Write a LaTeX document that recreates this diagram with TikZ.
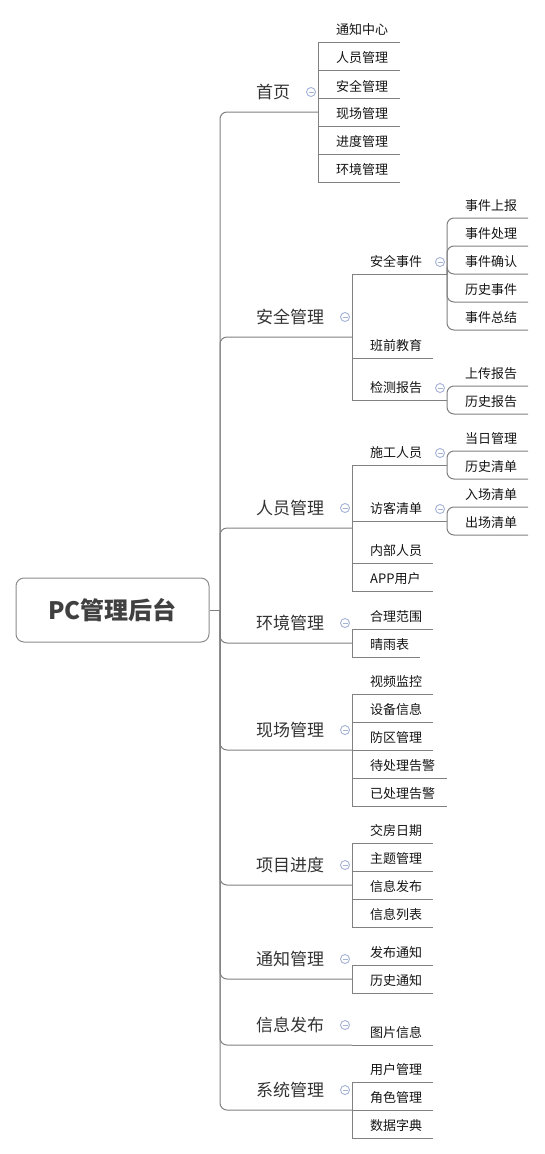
\documentclass[tikz,border=0pt]{standalone}
\usepackage{fontspec}
\setmainfont{Noto Sans CJK SC}
\definecolor{lc}{RGB}{128,128,128}
\definecolor{bc}{RGB}{140,140,140}
\definecolor{t1}{RGB}{51,51,51}
\definecolor{t2}{RGB}{20,20,20}
\definecolor{rt}{RGB}{64,64,64}
\definecolor{ic}{RGB}{165,178,215}
\begin{document}
\begin{tikzpicture}[x=1pt,y=-1pt,
  conn/.style={draw=lc, line width=1pt},
  rconn/.style={conn, rounded corners=7pt},
  l1/.style={anchor=west, inner sep=0pt, font=\fontsize{17}{20}\selectfont, text=t1},
  l2/.style={anchor=west, inner sep=0pt, font=\fontsize{13}{16}\selectfont, text=t2},
  rootbox/.style={draw=bc, line width=1pt, rounded corners=8pt, fill=white,
     minimum width=193pt, minimum height=64pt, inner sep=0pt,
     font=\fontsize{24}{28}\selectfont\bfseries, text=rt},
  foldicon/.pic={\draw[ic, line width=0.9pt, fill=white] (0,0) circle (4.5);
                 \draw[ic, line width=0.9pt] (-2.5,0) -- (2.5,0);}
]
\useasboundingbox (0,0) rectangle (545,1154);

% root
\node[rootbox] (root) at (112.5,610) {PC管理后台};
\coordinate (trunk) at (220,610);
\draw[conn] (root.east) -- (trunk);

% ---------- 首页
\coordinate (sy-end) at (318,112);
\draw[rconn] (trunk) |- (sy-end);
\node[l1] (sy) at (256,92) {首页};
\foreach \t/\y [count=\i] in {通知中心/42,人员管理/70,安全管理/98,现场管理/126,进度管理/154,环境管理/182}{
  \coordinate (sy\i-r) at (400,\y);
  \draw[conn] (sy-end) |- (sy\i-r);
  \node[l2] (sy\i) at (336,\y-12) {\t};
}
\pic at (311,92) {foldicon};

% ---------- 安全管理
\coordinate (aq-end) at (352,337);
\draw[rconn] (trunk) |- (aq-end);
\node[l1] (aq) at (256,317) {安全管理};
\foreach \t/\y/\r [count=\i] in {安全事件/274/447,班前教育/358/433,检测报告/400/447}{
  \coordinate (aq\i-r) at (\r,\y);
  \draw[conn] (aq-end) |- (aq\i-r);
  \node[l2] (aq\i) at (370,\y-12) {\t};
}
\foreach \t/\y [count=\i] in {事件上报/218,事件处理/246,事件确认/274,历史事件/302,事件总结/330}{
  \coordinate (aqa\i-r) at (528,\y);
  \draw[rconn] (aq1-r) |- (aqa\i-r);
  \node[l2] (aqa\i) at (465,\y-12) {\t};
}
\foreach \t/\y [count=\i] in {上传报告/386,历史报告/414}{
  \coordinate (aqc\i-r) at (528,\y);
  \draw[rconn] (aq3-r) |- (aqc\i-r);
  \node[l2] (aqc\i) at (465,\y-12) {\t};
}
\pic at (345,317) {foldicon};
\pic at (440,262) {foldicon};
\pic at (440,388) {foldicon};

% ---------- 人员管理
\coordinate (ry-end) at (352,528);
\draw[rconn] (trunk) |- (ry-end);
\node[l1] (ry) at (256,508) {人员管理};
\foreach \t/\y/\r [count=\i] in {施工人员/465/447,访客清单/521/447,内部人员/563/433,APP用户/591/433}{
  \coordinate (ry\i-r) at (\r,\y);
  \draw[conn] (ry-end) |- (ry\i-r);
  \node[l2] (ry\i) at (370,\y-12) {\t};
}
\foreach \t/\y [count=\i] in {当日管理/451,历史清单/479}{
  \coordinate (rya\i-r) at (528,\y);
  \draw[rconn] (ry1-r) |- (rya\i-r);
  \node[l2] (rya\i) at (465,\y-12) {\t};
}
\foreach \t/\y [count=\i] in {入场清单/507,出场清单/535}{
  \coordinate (ryb\i-r) at (528,\y);
  \draw[rconn] (ry2-r) |- (ryb\i-r);
  \node[l2] (ryb\i) at (465,\y-12) {\t};
}
\pic at (345,508) {foldicon};
\pic at (440,453) {foldicon};
\pic at (440,509) {foldicon};

% ---------- 环境管理
\coordinate (hj-end) at (352,643);
\draw[rconn] (trunk) |- (hj-end);
\node[l1] (hj) at (256,623) {环境管理};
\foreach \t/\y/\r [count=\i] in {合理范围/629/433,晴雨表/657/420}{
  \coordinate (hj\i-r) at (\r,\y);
  \draw[conn] (hj-end) |- (hj\i-r);
  \node[l2] (hj\i) at (370,\y-12) {\t};
}
\pic at (345,623) {foldicon};

% ---------- 现场管理
\coordinate (xc-end) at (352,750);
\draw[rconn] (trunk) |- (xc-end);
\node[l1] (xc) at (256,730) {现场管理};
\foreach \t/\y/\r [count=\i] in {视频监控/694/433,设备信息/722/433,防区管理/750/433,待处理告警/778/447,已处理告警/806/447}{
  \coordinate (xc\i-r) at (\r,\y);
  \draw[conn] (xc-end) |- (xc\i-r);
  \node[l2] (xc\i) at (370,\y-12) {\t};
}
\pic at (345,730) {foldicon};

% ---------- 项目进度
\coordinate (xm-end) at (352,885);
\draw[rconn] (trunk) |- (xm-end);
\node[l1] (xm) at (256,865) {项目进度};
\foreach \t/\y/\r [count=\i] in {交房日期/843/433,主题管理/871/433,信息发布/899/433,信息列表/927/433}{
  \coordinate (xm\i-r) at (\r,\y);
  \draw[conn] (xm-end) |- (xm\i-r);
  \node[l2] (xm\i) at (370,\y-12) {\t};
}
\pic at (345,865) {foldicon};

% ---------- 通知管理
\coordinate (tz-end) at (352,979);
\draw[rconn] (trunk) |- (tz-end);
\node[l1] (tz) at (256,959) {通知管理};
\foreach \t/\y/\r [count=\i] in {发布通知/965/433,历史通知/993/433}{
  \coordinate (tz\i-r) at (\r,\y);
  \draw[conn] (tz-end) |- (tz\i-r);
  \node[l2] (tz\i) at (370,\y-12) {\t};
}
\pic at (345,959) {foldicon};

% ---------- 信息发布
\coordinate (xx-end) at (352,1045);
\draw[rconn] (trunk) |- (xx-end);
\node[l1] (xx) at (256,1025) {信息发布};
\coordinate (xx1-r) at (433,1045);
\draw[conn] (xx-end) -- (xx1-r);
\node[l2] (xx1) at (370,1033) {图片信息};
\pic at (345,1025) {foldicon};

% ---------- 系统管理
\coordinate (xt-end) at (352,1110);
\draw[rconn] (trunk) |- (xt-end);
\node[l1] (xt) at (256,1090) {系统管理};
\foreach \t/\y/\r [count=\i] in {用户管理/1082/433,角色管理/1110/433,数据字典/1138/433}{
  \coordinate (xt\i-r) at (\r,\y);
  \draw[conn] (xt-end) |- (xt\i-r);
  \node[l2] (xt\i) at (370,\y-12) {\t};
}
\pic at (345,1090) {foldicon};
\end{tikzpicture}
\end{document}
